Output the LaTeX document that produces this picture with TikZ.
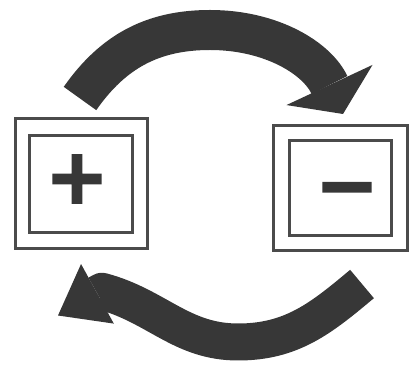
\documentclass[tikz,border=0pt]{standalone}
\usepackage{fontspec}
\newfontfamily\signfont[BoldFeatures={FakeBold=2.5}]{DejaVu Sans}
\usetikzlibrary{arrows.meta}

\begin{document}
\begin{tikzpicture}[
  x=1pt, y=1pt,
  frame/.style={draw=boxgray, line width=3pt, minimum width=132pt, minimum height=130pt, inner sep=0pt},
  signbox/.style={draw=boxgray, line width=3pt, minimum width=103pt, minimum height=97pt, inner sep=0pt},
  sign/.style={inner sep=0pt, text=inkgray, font=\signfont\bfseries\fontsize{76}{76}\selectfont},
  flow/.style={draw=inkgray, line width=40pt, line join=round, -{Triangle[length=32pt, width=95pt, line width=0pt]}}
]

\definecolor{inkgray}{RGB}{55,55,55}
\definecolor{boxgray}{RGB}{75,75,75}

\useasboundingbox (0,0) rectangle (412,366);

% the two sign boxes
\node[frame] (plusframe) at (81,182) {};
\node[signbox] (plusbox) at (plusframe.center) {};
\node[sign] (plussign) at ([xshift=-4pt,yshift=5pt]plusbox.center) {+};
\node[frame, minimum width=134pt, minimum height=125pt] (minusframe) at (340,178) {};
\node[signbox, minimum width=102pt, minimum height=95pt] (minusbox) at (minusframe.center) {};
\node[sign] (minussign) at ([xshift=7pt,yshift=-9pt]minusbox.center) {−};

% the two curved arrows
\coordinate (topbend) at (210,336);
\coordinate (lowbend) at (238,24);
\coordinate (headbase) at (102,74.7);
\draw[flow] ([xshift=-1pt,yshift=19pt]plusframe.north) to[out=55,in=180] (topbend) to[out=0,in=115] ([xshift=3pt,yshift=10pt]minusframe.north);
\draw[flow, line width=37pt, -{Triangle[length=45pt, width=68pt, line width=0pt]}] ([xshift=22pt,yshift=-32pt]minusframe.south) to[out=220,in=0] (lowbend) to[out=180,in=-15] (headbase) -- ([xshift=-23pt,yshift=-65pt]plusframe.south);

\end{tikzpicture}
\end{document}
